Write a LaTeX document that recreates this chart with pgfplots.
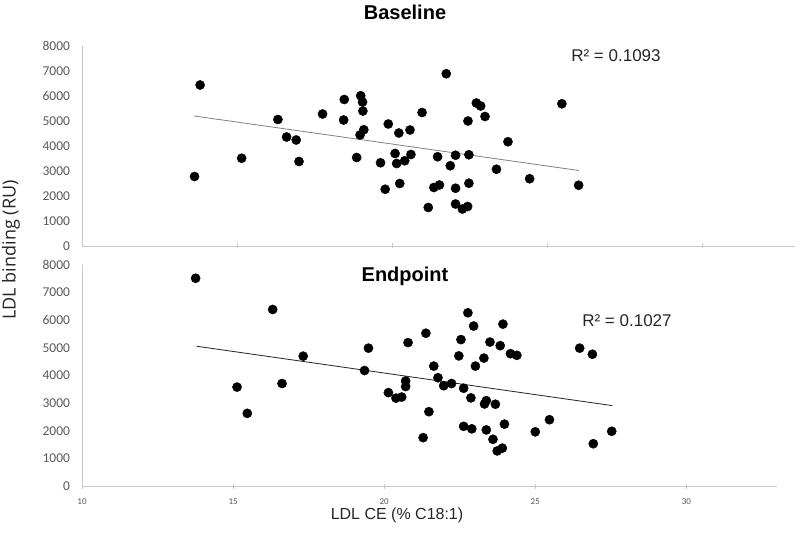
\documentclass[border=0pt]{standalone}
\usepackage{pgfplots}
\pgfplotsset{compat=1.18}
\usepackage{fontspec}
\setmainfont{Liberation Sans}
\newfontfamily\carlito{Carlito}
\newfontfamily\opensans{Open Sans}
\definecolor{axgray}{HTML}{C8C8C8}
\definecolor{tickgray}{HTML}{595959}
\pgfplotsset{
  common/.style={
    scale only axis, anchor=south west,
    xmin=10, xmax=33, ymin=0, ymax=8000,
    axis lines=left,
    axis line style={draw=axgray, line width=0.9pt, -},
    ytick={0,1000,...,8000},
    scaled y ticks=false,
    /pgf/number format/.cd, 1000 sep={}, assume math mode=true, /pgfplots/.cd,
    y tick style={draw=none},
    x tick style={draw=axgray, line width=0.9pt},
    tick align=center, major tick length=5pt,
    yticklabel style={font=\carlito\fontsize{13.5}{13.5}\selectfont, text=tickgray, xshift=-6pt},
    clip=false,
  },
  dots/.style={only marks, mark=*, mark size=4.6pt, mark options={fill=black, draw=black}},
}
\begin{document}
\begin{tikzpicture}[x=1pt,y=1pt]
\useasboundingbox (0,0) rectangle (800,533);
% Top panel
\begin{axis}[common, at={(82pt,287pt)}, width=713pt, height=200pt,
  xtick={15,20,25,30}, xticklabels={}]
\addplot[no marks, color=gray, line width=0.8pt] coordinates {(13.62,5200) (26.03,3020)};
\addplot[dots] coordinates {
(13.81,6440) (13.63,2780) (15.15,3510) (16.32,5060) (16.60,4360) (16.91,4240)
(17.00,3380) (17.76,5280) (18.46,5860) (18.44,5040) (18.99,6010) (19.05,5760)
(19.06,5400) (19.09,4650) (18.97,4440) (18.86,3540) (19.63,3330) (19.78,2270)
(19.88,4880) (20.10,3700) (20.15,3300) (20.22,4520) (20.25,2500) (20.41,3410)
(20.58,4640) (20.61,3660) (20.97,5340) (21.17,1540) (21.75,6890) (21.47,3570)
(21.35,2340) (21.53,2440) (21.88,3210) (22.05,3630) (22.05,2310) (22.05,1680)
(22.27,1480) (22.44,1580) (22.45,5000) (22.48,3650) (22.48,2510) (22.72,5720)
(22.86,5600) (23.00,5180) (23.37,3070) (23.74,4170) (24.44,2690) (25.48,5690)
(26.02,2430)};
\end{axis}
% Bottom panel
\begin{axis}[common, at={(82pt,47pt)}, width=695pt, height=221pt,
  xtick={10,15,20,25,30},
  xticklabel style={font=\carlito\fontsize{9}{9}\selectfont, text=tickgray, yshift=-7pt}]
\addplot[no marks, color=black!85, line width=0.8pt] coordinates {(13.79,5060) (27.55,2910)};
\addplot[dots] coordinates {
(13.76,7520) (15.13,3580) (15.47,2630) (16.31,6390) (16.62,3710) (17.32,4700)
(19.35,4180) (19.48,4990) (20.14,3380) (20.39,3180) (20.58,3220) (20.71,3800)
(20.71,3600) (20.79,5190) (21.29,1750) (21.38,5530) (21.48,2690) (21.64,4340)
(21.78,3920) (21.97,3630) (22.23,3710) (22.47,4710) (22.54,5300) (22.63,3540)
(22.63,2160) (22.77,6270) (22.87,3190) (22.90,2070) (22.96,5790) (23.02,4340)
(23.30,4630) (23.32,2970) (23.38,3090) (23.38,2030) (23.50,5210) (23.60,1690)
(23.68,2960) (23.74,1270) (23.91,1370) (23.84,5080) (23.93,5860) (23.98,2240)
(24.18,4790) (24.39,4730) (25.00,1960) (25.47,2400) (26.47,4990) (26.89,4770)
(26.92,1530) (27.53,1980)};
\end{axis}
\node[font=\fontsize{20}{24}\selectfont\bfseries] at (405,521) {Baseline};
\node[font=\fontsize{20}{24}\selectfont\bfseries] at (405,257) {Endpoint};
\node[font=\fontsize{17}{20}\selectfont, text=black!85] at (616,477) {R² = 0.1093};
\node[font=\fontsize{17}{20}\selectfont, text=black!85] at (627,212) {R² = 0.1027};
\node[font=\opensans\fontsize{18}{20}\selectfont, text=black!85, rotate=90] at (11,283) {LDL binding (RU)};
\node[font=\fontsize{16}{19}\selectfont, text=black!85] at (397,18) {LDL CE (\% C18:1)};
\end{tikzpicture}
\end{document}
